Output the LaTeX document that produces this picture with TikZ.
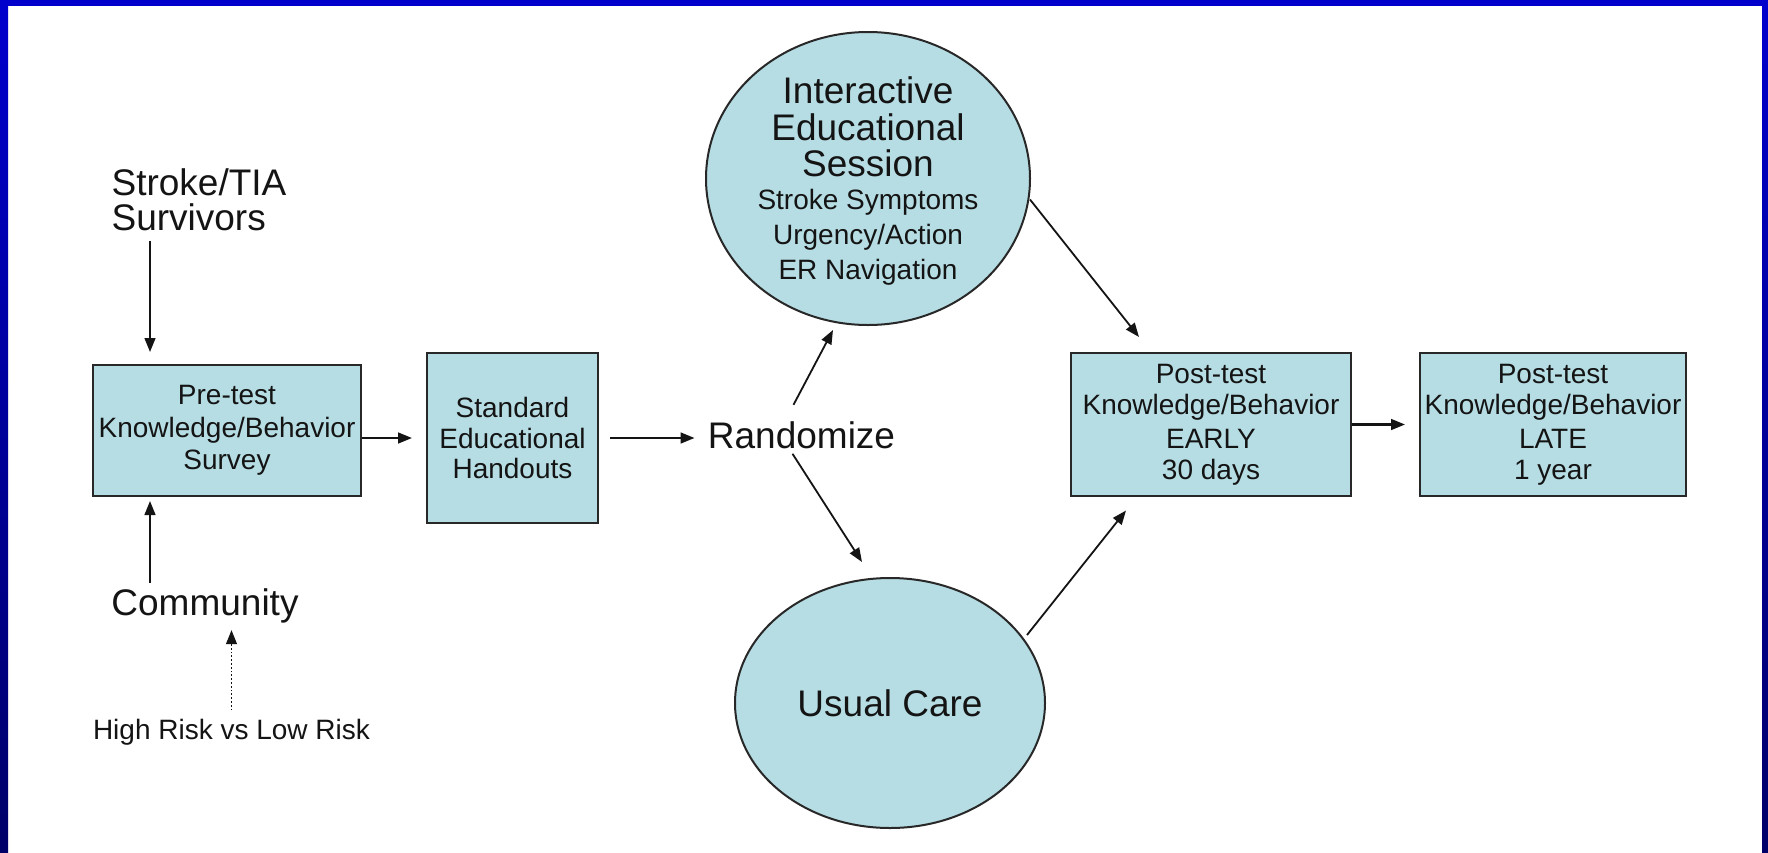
\documentclass[tikz,border=0pt]{standalone}
\usepackage{fontspec}
\setmainfont{Liberation Sans}
\usetikzlibrary{arrows.meta,calc,shapes.geometric}
\definecolor{boxfill}{RGB}{182,221,228}
\definecolor{boxline}{RGB}{40,40,40}
\definecolor{inkc}{RGB}{20,20,20}
\definecolor{frametop}{RGB}{0,0,205}
\definecolor{framebot}{RGB}{0,0,105}
\newcommand\myBig{\fontsize{18.5}{17.5}\selectfont}
\newcommand\mySmall{\fontsize{14}{16.25}\selectfont}
\begin{document}
\begin{tikzpicture}[x=0.5pt,y=-0.5pt,
  box/.style={draw=boxline,fill=boxfill,line width=1pt,inner sep=0pt,align=center,text=inkc},
  blob/.style={ellipse,draw=boxline,fill=boxfill,line width=1pt,inner sep=0pt,text=inkc},
  lbl/.style={inner sep=0pt,text=inkc},
  arr/.style={-{Triangle[length=7pt,width=5.4pt]},line width=0.9pt,draw=inkc},
]
\useasboundingbox (0,0) rectangle (1768,852);
\fill[white] (0,0) rectangle (1768,852);
\shade[top color=frametop,bottom color=framebot] (0,0) rectangle (8,852);
\shade[top color=frametop,bottom color=framebot] (1762,0) rectangle (1768,852);
\fill[frametop] (0,0) rectangle (1768,6);

% boxes
\node[box,minimum width=134pt,minimum height=65.5pt,font=\fontsize{14}{16.25}\selectfont] (pre) at (227,430.5) {Pre-test\\Knowledge/Behavior\\Survey};
\node[box,minimum width=85.5pt,minimum height=85pt,font=\fontsize{14}{15.25}\selectfont] (std) at (512.5,438) {Standard\\Educational\\Handouts};
\node[box,minimum width=140pt,minimum height=71.5pt,font=\fontsize{14}{15.5}\selectfont] (early) at (1211,424.5) {Post-test\\Knowledge/Behavior\\[1.5pt]EARLY\\30 days};
\node[box,minimum width=133pt,minimum height=71.5pt,font=\fontsize{14}{15.5}\selectfont] (late) at (1553,424.5) {Post-test\\Knowledge/Behavior\\[1.5pt]LATE\\1 year};

% circles
\node[blob,minimum width=162pt,minimum height=146.5pt] (ies) at (868,178.5) {};
\node[lbl,font=\myBig,anchor=base] (ies1) at (868,103) {Interactive};
\node[lbl,font=\myBig,anchor=base] (ies2) at (868,140) {Educational};
\node[lbl,font=\myBig,anchor=base] (ies3) at (868,176) {Session};
\node[lbl,font=\mySmall,anchor=base] (ies4) at (868,209) {Stroke Symptoms};
\node[lbl,font=\mySmall,anchor=base] (ies5) at (868,244) {Urgency/Action};
\node[lbl,font=\mySmall,anchor=base] (ies6) at (868,279) {ER Navigation};
\node[blob,minimum width=155pt,minimum height=125pt,font=\myBig] (uc) at (890,703) {Usual Care};

% free labels
\node[lbl,font=\myBig,anchor=base] (rand) at (801.5,448) {Randomize};
\node[lbl,font=\myBig,align=left,inner ysep=5pt] (stroke) at (199,199.5) {Stroke/TIA\\Survivors};
\node[lbl,font=\myBig,anchor=base] (comm) at (205,615) {Community};
\node[lbl,font=\mySmall,anchor=base] (risk) at (231.5,739) {High Risk vs Low Risk};
\coordinate (ax) at (150,0);

% connectors
\draw[arr,line width=1pt,shorten >=6pt] (stroke.south -| ax) -- (pre.north -| ax);
\draw[arr,line width=1pt,shorten <=2.5pt,shorten >=2pt] (comm.north -| ax) -- (pre.south -| ax);
\draw[arr,densely dotted,line width=0.7pt,shorten <=4pt,shorten >=3.5pt] (risk.north) -- (risk.north |- comm.south);
\draw[arr,line width=1.1pt,shorten >=7pt] (pre.east |- std.center) -- (std.west);
\draw[arr,line width=1.1pt,shorten <=5.5pt,shorten >=6.5pt] (std.east) -- (std.east -| rand.west);
\draw[arr] ($(rand.north)+(-8,-16)$) -- ($(ies.south)+(-35,4)$);
\draw[arr] ($(rand.south)+(-9,5)$) -- ($(uc.north)+(-28,-15)$);
\draw[arr] ($(ies.east)+(-1,21)$) -- ($(early.north)+(-72,-15)$);
\draw[arr] ($(uc.center)+(137,-68)$) -- ($(early.south)+(-85,13.5)$);
\draw[arr,line width=1.1pt,shorten >=7pt] (early.east) -- (late.west);
\end{tikzpicture}
\end{document}
